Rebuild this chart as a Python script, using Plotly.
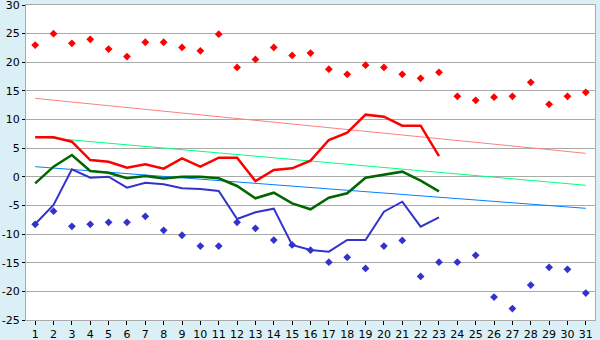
import plotly.graph_objects as go

days = list(range(1, 32))
days_line = list(range(1, 24))

max_pts = [23.0, 25.0, 23.3, 24.0, 22.3, 21.0, 23.5, 23.5, 22.6, 22.0, 24.9, 19.1, 20.5,
           22.6, 21.2, 21.6, 18.8, 17.9, 19.5, 19.1, 17.9, 17.2, 18.25, 14.05, 13.35,
           13.9, 14.05, 16.5, 12.65, 14.05, 14.75]
min_pts = [-8.3, -6.0, -8.64, -8.3, -7.94, -7.94, -6.9, -9.34, -10.2, -12.1, -12.1, -7.94,
           -9.0, -11.05, -11.9, -12.8, -14.9, -14.06, -16.0, -12.1, -11.1, -17.4, -14.9,
           -14.9, -13.7, -21.0, -23.0, -18.9, -15.8, -16.15, -20.3]

max_line = [6.9, 6.9, 6.13, 2.93, 2.64, 1.6, 2.18, 1.42, 3.23, 1.77, 3.34, 3.34, -0.73,
            1.19, 1.48, 2.82, 6.43, 7.7, 10.85, 10.5, 8.93, 8.93, 3.63]
avg_line = [-1.14, 1.77, 3.81, 1.01, 0.72, -0.26, 0.14, -0.31, 0.02, 0.0, -0.26, -1.6,
            -3.75, -2.77, -4.63, -5.67, -3.64, -2.88, -0.15, 0.32, 0.9, -0.68, -2.53]
min_line = [-8.24, -4.92, 1.31, -0.15, 0.02, -1.9, -1.03, -1.3, -2.0, -2.13, -2.48, -7.37,
            -6.2, -5.56, -11.9, -12.78, -13.07, -11.03, -11.03, -6.09, -4.35, -8.71, -7.07]

trend_days = [1, 31]
max_trend = [13.7, 4.1]
avg_trend = [7.0, -1.48]
min_trend = [1.77, -5.5]

tick_vals_y = list(range(-25, 31, 5))
tick_text_y = [str(v) for v in tick_vals_y]

fig = go.Figure()
fig.add_trace(go.Scatter(x=trend_days, y=max_trend, mode="lines",
                         line=dict(color="#FF8080", width=1)))
fig.add_trace(go.Scatter(x=trend_days, y=avg_trend, mode="lines",
                         line=dict(color="#00FF80", width=1)))
fig.add_trace(go.Scatter(x=trend_days, y=min_trend, mode="lines",
                         line=dict(color="#0080FF", width=1)))
fig.add_trace(go.Scatter(x=days_line, y=max_line, mode="lines",
                         line=dict(color="#FF0000", width=2.5)))
fig.add_trace(go.Scatter(x=days_line, y=avg_line, mode="lines",
                         line=dict(color="#006600", width=2.5)))
fig.add_trace(go.Scatter(x=days_line, y=min_line, mode="lines",
                         line=dict(color="#3333CC", width=2)))
fig.add_trace(go.Scatter(x=days, y=max_pts, mode="markers",
                         marker=dict(symbol="diamond", size=6, color="#FF0000")))
fig.add_trace(go.Scatter(x=days, y=min_pts, mode="markers",
                         marker=dict(symbol="diamond", size=6, color="#3333CC")))

fig.update_layout(
    width=600, height=340,
    margin=dict(l=26, r=5, t=5, b=20, autoexpand=False),
    paper_bgcolor="#DAEFF6",
    plot_bgcolor="#FFFFFF",
    showlegend=False,
    font=dict(family="DejaVu Sans", size=11, color="#000000"),
)
fig.update_xaxes(
    range=[0.5, 31.5], tickmode="array", tickvals=days, ticktext=[str(d) for d in days],
    showgrid=False, zeroline=False, showline=True, linecolor="#AAAAAA", linewidth=1,
    mirror=True, ticks="outside", ticklen=4, tickcolor="#000000", automargin=False,
    ticklabeloverflow="allow",
    tickfont=dict(family="DejaVu Sans", size=11),
)
fig.update_yaxes(
    range=[-25, 30], tickmode="array", tickvals=tick_vals_y, ticktext=tick_text_y,
    showgrid=True, gridcolor="#AAAAAA", gridwidth=1, zeroline=False,
    showline=True, linecolor="#AAAAAA", linewidth=1, mirror=True,
    ticks="outside", ticklen=3, tickcolor="#000000", automargin=False,
    ticklabeloverflow="allow",
    tickfont=dict(family="DejaVu Sans", size=11),
)
fig.write_html("out.html")
